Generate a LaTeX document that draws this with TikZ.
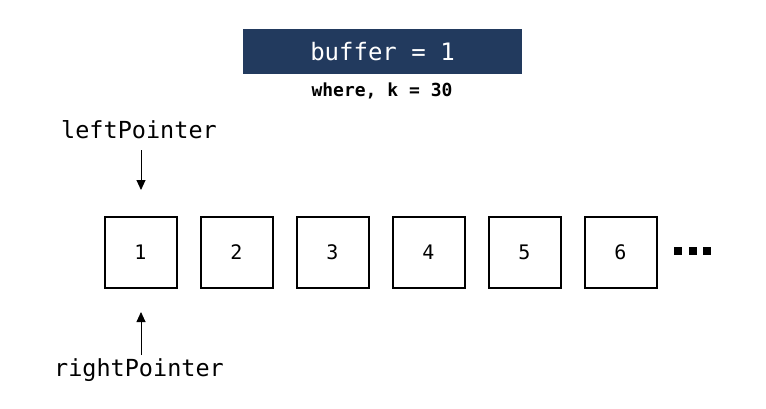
\documentclass[tikz,border=0pt]{standalone}
\usepackage{fontspec}
\setmonofont{DejaVu Sans Mono}
\usetikzlibrary{arrows.meta}

\definecolor{bufblue}{HTML}{223A5E}

\begin{document}
\begin{tikzpicture}[x=1pt, y=-1pt,
  cell/.style={draw, line width=2pt, minimum width=72pt, minimum height=71pt, inner sep=0pt, font=\ttfamily\fontsize{20}{24}\selectfont},
  ptrlabel/.style={font=\ttfamily\fontsize{23.5}{28}\selectfont, inner sep=0pt},
  ptr/.style={-{Triangle[length=10pt, width=9pt]}, line width=0.9pt},
  moredot/.style={fill=black, minimum size=8pt, inner sep=0pt}]

\useasboundingbox (0,0) rectangle (766,408);

% header
\node [fill=bufblue, text=white, minimum width=279pt, minimum height=45pt, inner sep=0pt,
       font=\ttfamily\fontsize{24}{28}\selectfont] (buffer) at (382.5,51.5) {buffer = 1};
\node [font=\ttfamily\bfseries\fontsize{18}{21}\selectfont, inner sep=0pt] (where) at (382,91) {where, k = 30};

% cells
\node [cell] (c1) at (140.5,252) {1};
\node [cell] (c2) at (236.5,252) {2};
\node [cell] (c3) at (332.5,252) {3};
\node [cell] (c4) at (428.5,252) {4};
\node [cell] (c5) at (524.5,252) {5};
\node [cell] (c6) at (620.5,252) {6};

\node [moredot] (d1) at (678,250.5) {};
\node [moredot] (d2) at (692.5,250.5) {};
\node [moredot] (d3) at (707,250.5) {};

% pointers
\node [ptrlabel] (lp) at (139,130) {leftPointer};
\node [ptrlabel] (rp) at (139,370) {rightPointer};

\coordinate (ltail) at (141,150);
\coordinate (lhead) at (141,190);
\coordinate (rtail) at (141,355);
\coordinate (rhead) at (141,312);

\draw [ptr] (ltail) -- (lhead);
\draw [ptr] (rtail) -- (rhead);

\end{tikzpicture}
\end{document}
